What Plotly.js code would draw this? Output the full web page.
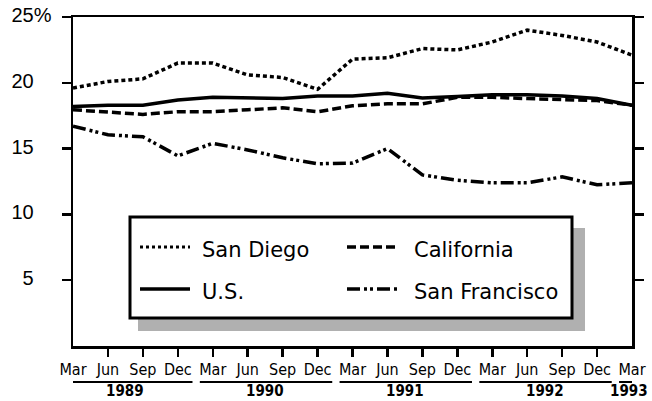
<!DOCTYPE html>
<html>
<head>
<meta charset="utf-8">
<script src="https://cdn.plot.ly/plotly-3.0.1.min.js"></script>
<style>html,body{margin:0;padding:0;background:#fff;}</style>
</head>
<body>
<div id="chart" style="width:652px;height:401px;"></div>
<script>
// ---- data ----
const months = ["Mar","Jun","Sep","Dec","Mar","Jun","Sep","Dec","Mar","Jun","Sep","Dec","Mar","Jun","Sep","Dec","Mar"];
const quarterIndex = [0,1,2,3,4,5,6,7,8,9,10,11,12,13,14,15,16];
const years = ["1989","1990","1991","1992","1993"];
const yearStart = [0,4,8,12,16];
const sanDiego = [19.6,20.1,20.3,21.5,21.5,20.6,20.4,19.5,21.8,21.9,22.6,22.5,23.1,24.0,23.6,23.1,22.1];
const us = [18.2,18.3,18.3,18.7,18.9,18.85,18.8,19.0,19.0,19.2,18.85,18.95,19.1,19.1,19.0,18.8,18.3];
const california = [17.95,17.8,17.6,17.8,17.8,17.95,18.1,17.8,18.25,18.4,18.4,18.9,18.9,18.8,18.7,18.65,18.3];
const sanFrancisco = [16.7,16.05,15.9,14.45,15.4,14.9,14.3,13.85,13.9,15.0,13.0,12.6,12.4,12.4,12.85,12.25,12.4];
const yTickVals = [5,10,15,20,25];
const yTickText = ["5","10","15","20","25%"];
const seriesNames = ["San Diego","California","U.S.","San Francisco"];

// ---- geometry helpers (pixel -> paper) ----
const L = 73, R = 632, T = 17, B = 346;
const px = v => (v - L) / (R - L);
const py = v => (B - v) / (B - T);

const dashSD = "4px,3px", dashCA = "9px,4px", dashSF = "13px,4px,3px,3px,3px,4px";

const traces = [
  {x: quarterIndex, y: sanDiego, name: seriesNames[0], mode: "lines", line: {color: "#000", width: 3.5, dash: dashSD}},
  {x: quarterIndex, y: california, name: seriesNames[1], mode: "lines", line: {color: "#000", width: 3.5, dash: dashCA}},
  {x: quarterIndex, y: us, name: seriesNames[2], mode: "lines", line: {color: "#000", width: 3.5}},
  {x: quarterIndex, y: sanFrancisco, name: seriesNames[3], mode: "lines", line: {color: "#000", width: 3.5, dash: dashSF}}
];

const hidden = '<span style="color:rgba(0,0,0,0)">%</span>';
const yText = yTickText.map(t => t.indexOf('%') >= 0 ? t : t + hidden);

const shapes = [];
const annotations = [];

// legend shadow + box
shapes.push({type: "rect", xref: "paper", yref: "paper", x0: px(138), x1: px(585), y0: py(331), y1: py(228),
  fillcolor: "#b0b0b0", line: {width: 0}, layer: "above"});
shapes.push({type: "rect", xref: "paper", yref: "paper", x0: px(130), x1: px(572), y0: py(318), y1: py(217),
  fillcolor: "#fff", line: {color: "#000", width: 3}, layer: "above"});

// legend entries
const legCols = [[140,190,200],[347,397,412]];
const legRows = [247, 289];
const legDash = ["3px,3px", dashCA, "solid", dashSF];
const legWidth = [3, 3.5, 3.5, 3.5];
[0,1,2,3].forEach(i => {
  const c = legCols[i % 2], r = legRows[Math.floor(i / 2)];
  shapes.push({type: "line", xref: "paper", yref: "paper", x0: px(c[0]), x1: px(c[1]), y0: py(r), y1: py(r),
    line: {color: "#000", width: legWidth[i], dash: legDash[i]}, layer: "above"});
  annotations.push({xref: "paper", yref: "paper", x: px(c[2]), y: py(r + 3), text: seriesNames[i],
    showarrow: false, xanchor: "left", yanchor: "middle",
    font: {family: "DejaVu Sans, Arial, sans-serif", size: 21, color: "#000"}});
});

// year underlines + labels
yearStart.forEach((q, i) => {
  const last = i === yearStart.length - 1;
  const x0 = q - 0.37, x1 = last ? q + 0.25 : q + 3.42;
  shapes.push({type: "line", xref: "x", yref: "paper", x0: x0, x1: x1, y0: py(382), y1: py(382),
    line: {color: "#000", width: 2}});
  annotations.push({xref: "x", yref: "paper", x: last ? q - 0.08 : q + 1.5, y: py(390.5), text: years[i],
    showarrow: false, xanchor: "center", yanchor: "middle", borderpad: 0,
    font: {family: "Liberation Sans Narrow, DejaVu Sans Condensed, Arial Narrow, Liberation Sans, sans-serif", size: 15, weight: "bold", color: "#000"}});
});

const layout = {
  width: 652, height: 401,
  margin: {l: L, r: 652 - R, t: T, b: 401 - B},
  paper_bgcolor: "#fff", plot_bgcolor: "#fff",
  showlegend: false,
  xaxis: {
    range: [0, 16], tickvals: quarterIndex, ticktext: months,
    ticks: "", showline: true, linecolor: "#000", linewidth: 2.5, mirror: true,
    showgrid: false, zeroline: false,
    minor: {tickmode: "array", tickvals: quarterIndex.slice(1, 16), ticks: "outside", ticklen: 8, tickwidth: 2.5, tickcolor: "#000", showgrid: false},
    tickfont: {family: "Liberation Sans Narrow, DejaVu Sans Condensed, Arial Narrow, Liberation Sans, sans-serif", size: 16, color: "#000"},
    ticklabelstandoff: 7
  },
  yaxis: {
    range: [0, 25], tickvals: yTickVals, ticktext: yText,
    ticks: "outside", ticklen: 9, tickwidth: 2.5, tickcolor: "#000",
    showline: true, linecolor: "#000", linewidth: 2.5, mirror: "ticks",
    showgrid: false, zeroline: false,
    tickfont: {family: "Liberation Sans, Arial, sans-serif", size: 20, color: "#000"},
    ticklabelstandoff: 6, ticklabelshift: -2
  },
  shapes: shapes,
  annotations: annotations
};

Plotly.newPlot("chart", traces, layout, {displayModeBar: false, staticPlot: true});
</script>
</body>
</html>
